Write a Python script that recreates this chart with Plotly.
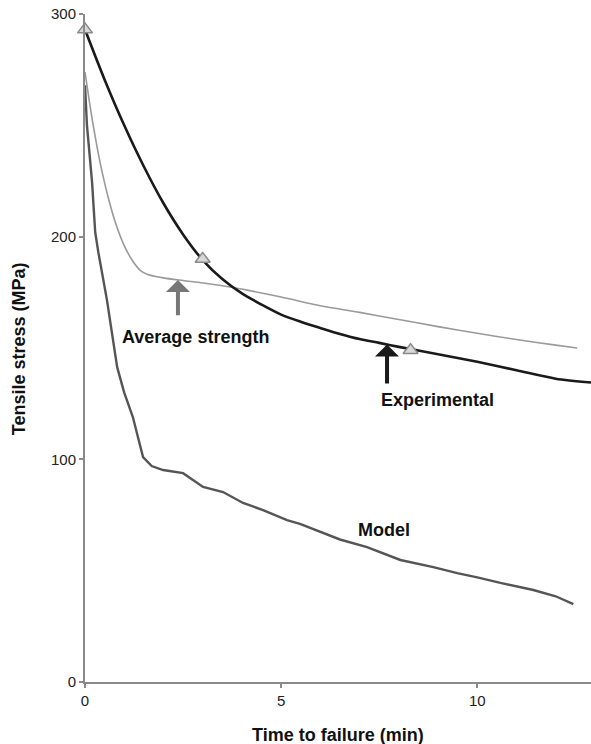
import plotly.graph_objects as go

# Experimental creep-rupture curve (time to failure in min, stress in MPa)
exp_t = [0, 0.5, 1.0, 1.5, 2.0, 2.5, 3.0, 3.5, 4.0, 4.5, 5.0, 5.5, 6.0, 6.5,
         7.0, 7.5, 8.0, 9.0, 10.0, 11.0, 12.0, 12.9]
exp_s = [293, 270.5, 250, 231.5, 215, 201, 189.5, 181, 174.5, 169.5, 165, 161.8, 159, 156.3,
         154, 152.3, 150.5, 147.2, 143.8, 140, 136.2, 134.5]

# Average-strength curve
avg_t = [0, 0.1, 0.2, 0.3, 0.4, 0.6, 0.8, 1.0, 1.2, 1.4, 1.6, 2.0, 2.5, 3.0,
         3.7, 5.0, 6.0, 7.0, 8.0, 9.0, 10.0, 11.0, 12.0, 12.55]
avg_s = [274, 262, 251, 241, 232, 217, 205, 196, 189.5, 185, 183, 181.5, 180.3, 179.2,
         177.4, 172.9, 169, 166, 162.8, 159.6, 156.6, 153.8, 151.3, 150]

# Model prediction
mod_t = [0, 0.05, 0.18, 0.26, 0.34, 0.56, 0.82, 1.0, 1.22, 1.48, 1.7, 1.99, 2.5, 2.8,
         3.01, 3.52, 4.03, 4.54, 5.15, 5.48, 6.0, 6.5, 7.19, 8.04, 8.88, 9.49, 10.0,
         10.59, 11.43, 12.0, 12.45]
mod_s = [268, 250, 224.5, 202, 193, 171.5, 141.4, 130, 119, 101, 97, 95.2, 93.8, 90,
         87.6, 85.3, 80.4, 77.2, 72.7, 71, 67.5, 64, 60.6, 54.8, 51.6, 48.9, 47,
         44.5, 41.3, 38.5, 35]

# Measured test points
pts_t = [0, 3.0, 8.3]
pts_s = [293, 190, 149]

x_ticks = [0, 5, 10]
y_ticks = [0, 100, 200, 300]

FONT = "Liberation Sans, Arial, sans-serif"

fig = go.Figure()
fig.add_trace(go.Scatter(x=avg_t, y=avg_s, mode="lines",
                         line=dict(color="#9a9a9a", width=1.6, shape="spline", smoothing=0.8),
                         showlegend=False))
fig.add_trace(go.Scatter(x=mod_t, y=mod_s, mode="lines",
                         line=dict(color="#555555", width=2.4), showlegend=False))
fig.add_trace(go.Scatter(x=exp_t, y=exp_s, mode="lines",
                         line=dict(color="#1a1a1a", width=2.6, shape="spline", smoothing=0.8),
                         showlegend=False))
fig.add_trace(go.Scatter(x=pts_t, y=pts_s, mode="markers",
                         marker=dict(symbol="triangle-up", size=13, color="#d8d8d8",
                                     line=dict(color="#8a8a8a", width=1.5)),
                         showlegend=False, cliponaxis=False))

# Pointer arrows
fig.add_annotation(x=2.37, y=180.5, ax=2.37, ay=164, xref="x", yref="y",
                   axref="x", ayref="y", text="", showarrow=True,
                   arrowhead=1, arrowsize=1, arrowwidth=4, arrowcolor="#777777")
fig.add_annotation(x=7.70, y=151.6, ax=7.70, ay=133.4, xref="x", yref="y",
                   axref="x", ayref="y", text="", showarrow=True,
                   arrowhead=1, arrowsize=1, arrowwidth=4, arrowcolor="#1a1a1a")

# Curve labels
for label, lx, ly in [("Average strength", 2.81, 154.9),
                      ("Experimental", 8.98, 126.6),
                      ("Model", 7.63, 68.3)]:
    fig.add_annotation(x=lx, y=ly, xref="x", yref="y", text=f"<b>{label}</b>",
                       showarrow=False, xanchor="center", yanchor="middle",
                       font=dict(family=FONT, size=18, color="#111111"))

# Axis titles
fig.add_annotation(x=0.5, y=-0.0793, xref="paper", yref="paper",
                   text="<b>Time to failure (min)</b>", showarrow=False,
                   xanchor="center", yanchor="middle",
                   font=dict(family=FONT, size=18, color="#111111"))
fig.add_annotation(x=-0.130, y=0.4985, xref="paper", yref="paper",
                   text="<b>Tensile stress (MPa)</b>", showarrow=False, textangle=-90,
                   xanchor="center", yanchor="middle",
                   font=dict(family=FONT, size=18, color="#111111"))

axis_common = dict(showline=True, linecolor="#8a8a8a", linewidth=2, ticks="outside",
                   ticklen=4, tickwidth=1.5, tickcolor="#8a8a8a", showgrid=False,
                   zeroline=False, tickfont=dict(family=FONT, size=15, color="#222222"))

fig.update_layout(
    width=591, height=744,
    margin=dict(l=85, r=0, t=14, b=62),
    paper_bgcolor="white", plot_bgcolor="white",
    xaxis=dict(range=[0, 12.9], tickvals=x_ticks, **axis_common),
    yaxis=dict(range=[0, 300], tickvals=y_ticks, **axis_common),
)

fig.write_html("out.html")
